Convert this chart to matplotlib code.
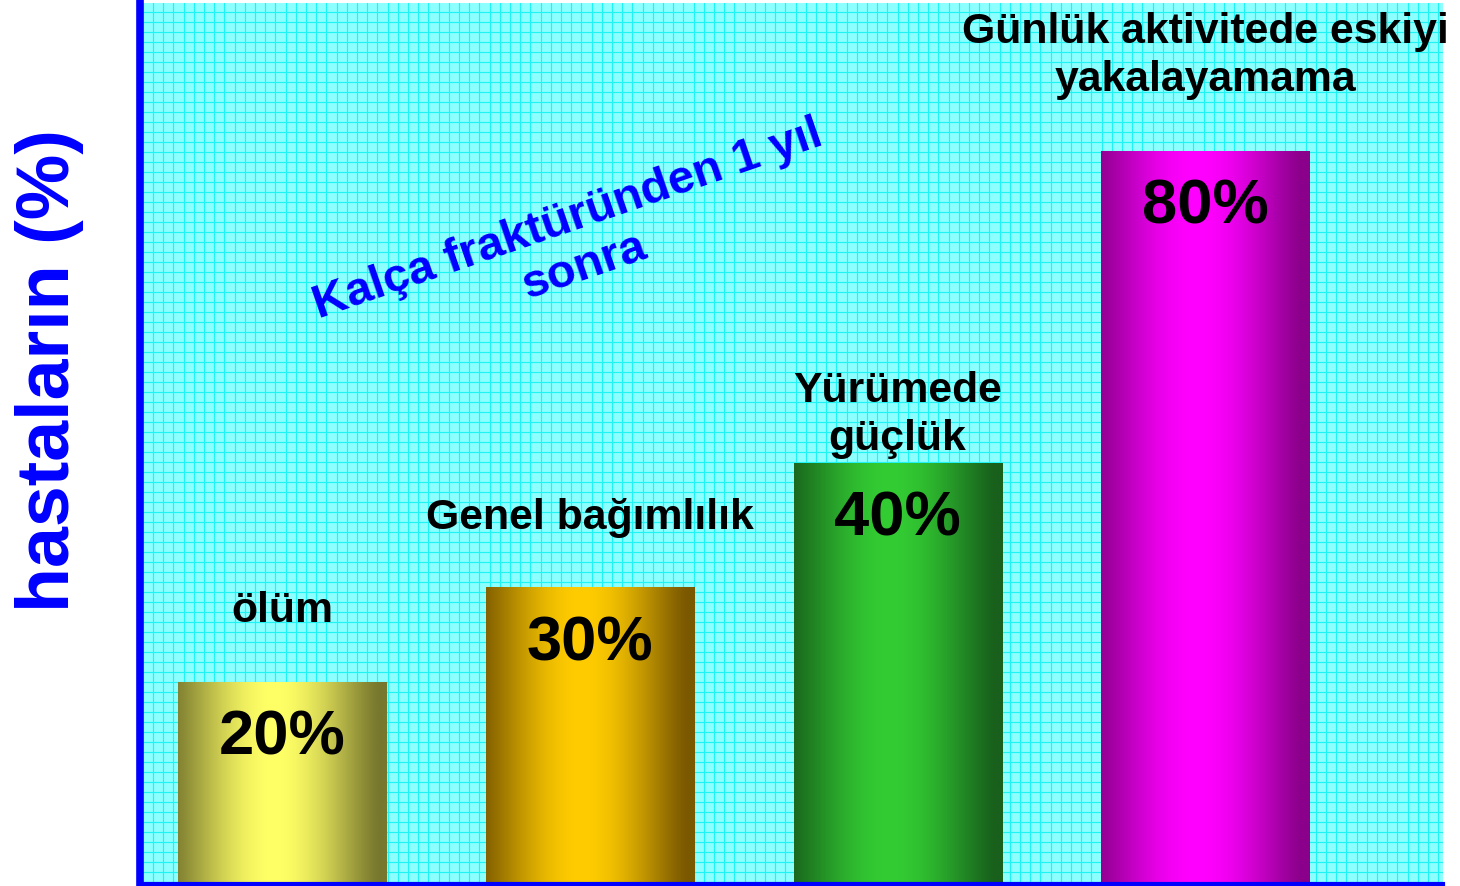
import numpy as np
import matplotlib
matplotlib.use("Agg")
import matplotlib.pyplot as plt
from matplotlib.colors import to_rgb

plt.rcParams['font.family'] = ['Liberation Sans', 'DejaVu Sans']

# ---- data ----
categories = ["ölüm", "Genel bağımlılık", "Yürümede\ngüçlük",
              "Günlük aktivitede eskiyi\nyakalayamama"]
bar_heights = [21.5, 31.6, 44.9, 78.2]          # heights as drawn in the picture
value_labels = ["20%", "30%", "40%", "80%"]
edge_colors = ["#77772e", "#7a5800", "#18601c", "#8a008a"]
center_colors = ["#ffff66", "#ffcc00", "#33cc33", "#ff00ff"]
cat_offsets_px = [72, 71, 49, 96]              # label centre above bar top

W, H = 1460, 887
fig = plt.figure(figsize=(W / 100, H / 100), dpi=100)
fig.patch.set_facecolor("white")

left_px, right_px, top_px, bottom_px = 140, 1443, 4, 885
rect = [left_px / W, 1 - bottom_px / H, (right_px - left_px) / W, (bottom_px - top_px) / H]

# background grid axes
axbg = fig.add_axes(rect, zorder=0)
axbg.set_facecolor("#8effff")
axbg.set_xlim(0, right_px - left_px)
axbg.set_ylim(0, bottom_px - top_px)
axbg.set_xticks(np.arange(13, right_px - left_px, 10.2))
axbg.set_yticks(np.arange(2, bottom_px - top_px, 10.0))
axbg.grid(True, color="#1ef4f4", linewidth=0.85)
axbg.tick_params(length=0, labelleft=False, labelbottom=False)
for s in axbg.spines.values():
    s.set_visible(False)

ax = fig.add_axes(rect, zorder=1)
ax.patch.set_alpha(0)
x = np.arange(len(categories))
bw = 0.676
bars = ax.bar(x, bar_heights, width=bw, color="none", edgecolor="none")

prof = np.linspace(-1, 1, 256)
for b, ec, cc in zip(bars, edge_colors, center_colors):
    t = np.cos(np.clip((prof + 0.08) / 1.02, -1, 1) * np.pi / 2) ** 1.3
    e = np.array(to_rgb(ec)); c = np.array(to_rgb(cc))
    img = e[None, :] + (c - e)[None, :] * t[:, None]
    img = img[None, :, :]
    x0 = b.get_x(); h = b.get_height()
    ax.imshow(img, extent=(x0, x0 + b.get_width(), 0, h), aspect="auto",
              zorder=2, interpolation="bilinear")

ax.set_xlim(-0.4615, 3.772)
ax.set_ylim(0, 94)

for xi, h, cat, vl, off in zip(x, bar_heights, categories, value_labels, cat_offsets_px):
    ax.annotate(vl, xy=(xi, h), xytext=(0, -55 * 0.72), textcoords="offset points",
                ha="center", va="center", fontsize=45.5, fontweight="bold", color="black",
                zorder=3)
    ax.annotate(cat, xy=(xi, h), xytext=(0, off * 0.72), textcoords="offset points",
                ha="center", va="center", fontsize=30.8, fontweight="bold", color="black",
                linespacing=1.24, multialignment="center", zorder=3, annotation_clip=False)

ax.text((576 - left_px) / (right_px - left_px), (bottom_px - 243) / (bottom_px - top_px),
        "Kalça fraktüründen 1 yıl\nsonra", transform=ax.transAxes, rotation=19,
        ha="center", va="center", multialignment="center", fontsize=34,
        fontweight="bold", color="#0000ff", linespacing=1.15, zorder=3)

ax.set_xticks([]); ax.set_yticks([])
ax.spines["top"].set_visible(False)
ax.spines["right"].set_visible(False)
ax.spines["left"].set_color("#0000ff")
ax.spines["left"].set_linewidth(5.5)
ax.spines["bottom"].set_color("#0000ff")
ax.spines["bottom"].set_linewidth(3)

fig.text(50 / W, 1 - 371 / H, "hastaların (%)", rotation=90, ha="center", va="center",
         fontsize=53, fontweight="bold", color="#0000ff")

fig.savefig("out.png", dpi=100)
